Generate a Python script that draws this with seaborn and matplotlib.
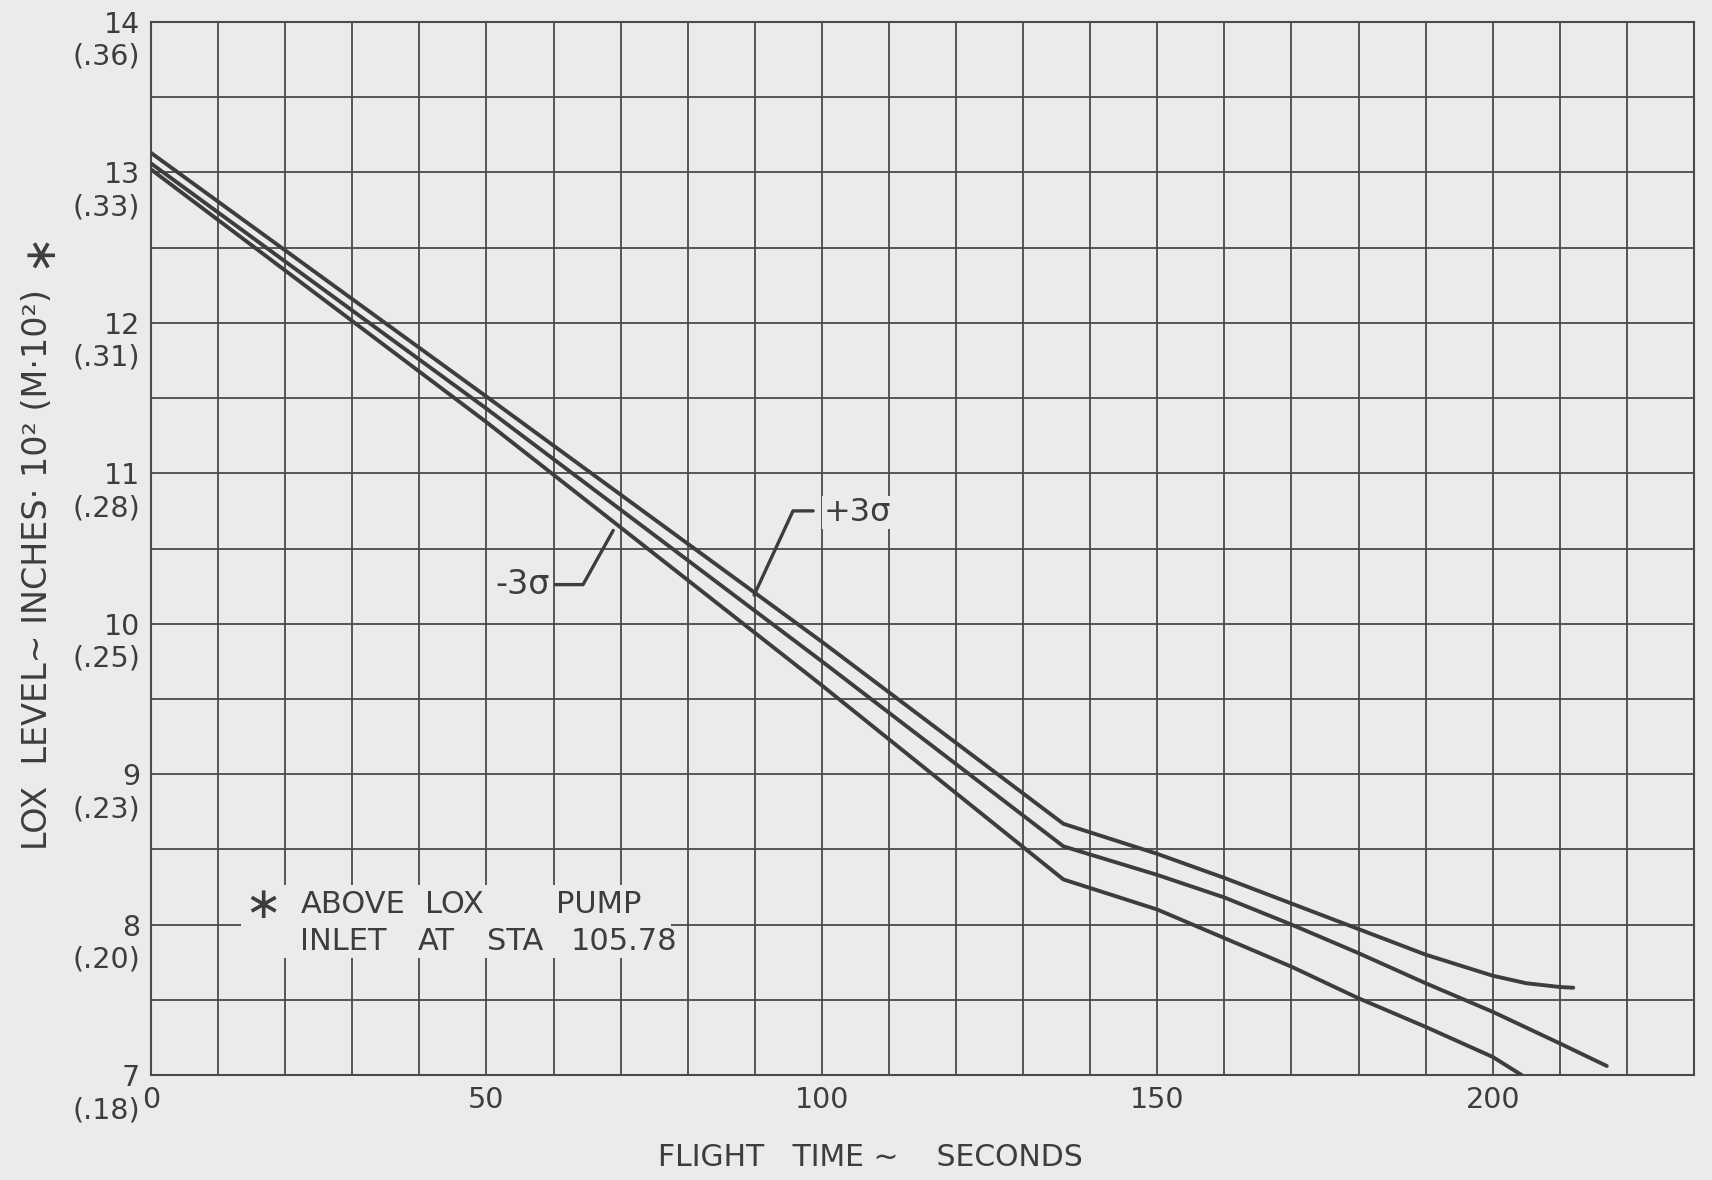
import matplotlib
matplotlib.use("Agg")
import matplotlib.pyplot as plt
import seaborn as sns
import numpy as np
import pandas as pd
from matplotlib.patches import Rectangle

# ---------------- data ----------------
time_plus = [0, 50, 100, 136, 150, 160, 170, 180, 190, 200, 205, 210, 212]
lox_plus = [13.13, 11.51, 9.88, 8.67, 8.47, 8.31, 8.14, 7.97, 7.80, 7.66, 7.61, 7.585, 7.58]

time_nom = [0, 50, 100, 136, 150, 160, 170, 180, 190, 200, 210, 217]
lox_nom = [13.06, 11.43, 9.75, 8.52, 8.33, 8.18, 8.00, 7.81, 7.61, 7.42, 7.21, 7.06]

time_minus = [0, 50, 100, 136, 150, 160, 170, 180, 190, 200, 204.3]
lox_minus = [13.02, 11.34, 9.59, 8.30, 8.10, 7.91, 7.72, 7.51, 7.32, 7.12, 7.00]

x_ticks = [0, 50, 100, 150, 200]
x_ticklabels = ["0", "50", "100", "150", "200"]
y_ticks = [7, 8, 9, 10, 11, 12, 13, 14]
y_ticklabels = ["7", "8", "9", "10", "11", "12", "13", "14"]
y_metric_labels = ["(.18)", "(.20)", "(.23)", "(.25)", "(.28)", "(.31)", "(.33)", "(.36)"]

xlabel = "FLIGHT   TIME \u223c    SECONDS"
ylabel = "LOX  LEVEL\u223c INCHES\u00b7 10\u00b2 (M\u00b710\u00b2)"
note_star = "\u2217"
note_words_row1 = ["ABOVE", "LOX", "PUMP"]
note_x_row1 = [22.3, 40.9, 60.3]
note_words_row2 = ["INLET", "AT", "STA", "105.78"]
note_x_row2 = [22.2, 39.8, 50.1, 62.6]
label_plus = "+3\u03c3"
label_minus = "-3\u03c3"

# ---------------- style ----------------
BG = "#ebebeb"
INK = "#3d3d3d"
GRID = "#4a4a4a"

sns.set_theme(style="white")
plt.rcParams["font.family"] = ["DejaVu Sans"]
plt.rcParams["text.color"] = INK

df = pd.concat([
    pd.DataFrame({"t": time_plus, "lox": lox_plus, "s": "+3s"}),
    pd.DataFrame({"t": time_nom, "lox": lox_nom, "s": "nom"}),
    pd.DataFrame({"t": time_minus, "lox": lox_minus, "s": "-3s"}),
], ignore_index=True)

fig = plt.figure(figsize=(17.12, 11.80), dpi=100, facecolor=BG)
ax = fig.add_axes([151 / 1712, 105 / 1180, (1694 - 151) / 1712, (1075 - 22) / 1180])
ax.set_facecolor(BG)

sns.lineplot(data=df, x="t", y="lox", hue="s", units="s", estimator=None, sort=False,
             palette={"+3s": INK, "nom": INK, "-3s": INK}, legend=False,
             linewidth=2.8, ax=ax, zorder=3)

ax.set_xlim(0, 230)
ax.set_ylim(7, 14)
ax.set_xticks(x_ticks)
ax.set_xticklabels(x_ticklabels)
ax.set_xticks(np.arange(0, 231, 10), minor=True)
ax.set_yticks(y_ticks)
ax.set_yticklabels(y_ticklabels)
ax.set_yticks(np.arange(7, 14.01, 0.5), minor=True)
ax.set_axisbelow(True)
ax.grid(True, which="both", color=GRID, linewidth=1.3)
ax.tick_params(which="both", length=0)
ax.tick_params(axis="x", pad=8, labelsize=20.5, labelcolor=INK)
ax.tick_params(axis="y", pad=8, labelsize=20.5, labelcolor=INK)
for sp in ax.spines.values():
    sp.set_color(GRID)
    sp.set_linewidth(1.5)

for v, lab in zip(y_ticks, y_metric_labels):
    ax.annotate(lab, xy=(0, v), xycoords=("axes fraction", "data"),
                xytext=(-11, -35), textcoords="offset pixels",
                ha="right", va="center", fontsize=20.5, color=INK)

ax.set_xlabel("")
ax.set_ylabel("")
fig.text(870 / 1712, 1 - 1158 / 1180, xlabel, ha="center", va="center", fontsize=21.5, color=INK)
fig.text(38 / 1712, 1 - 570 / 1180, ylabel, ha="center", va="center", rotation=90,
         fontsize=24, color=INK)
fig.text(38 / 1712, 1 - 249 / 1180, note_star, ha="center", va="center", rotation=90,
         fontsize=32, color=INK)

# note box
ax.add_patch(Rectangle((13.4, 7.78), 64.1, 0.48, facecolor=BG, edgecolor="none", zorder=1))
ax.text(16.7, 8.13, note_star, ha="center", va="center", fontsize=32, color=INK, zorder=4)
for w, xw in zip(note_words_row1, note_x_row1):
    ax.text(xw, 8.136, w, ha="left", va="center", fontsize=22, color=INK, zorder=4)
for w, xw in zip(note_words_row2, note_x_row2):
    ax.text(xw, 7.89, w, ha="left", va="center", fontsize=22, color=INK, zorder=4)

# sigma labels with leader lines
ax.text(59.4, 10.26, label_minus, ha="right", va="center", fontsize=24, color=INK, zorder=4,
        bbox=dict(facecolor=BG, edgecolor="none", pad=1))
ax.plot([60.3, 64.4, 68.9], [10.26, 10.26, 10.62], color=INK, linewidth=2.4, zorder=4)
ax.text(100.2, 10.74, label_plus, ha="left", va="center", fontsize=23, color=INK, zorder=4,
        bbox=dict(facecolor=BG, edgecolor="none", pad=1))
ax.plot([98.7, 95.7, 89.9], [10.75, 10.75, 10.19], color=INK, linewidth=2.4, zorder=4)

fig.savefig("out.png", dpi=100, facecolor=BG)
